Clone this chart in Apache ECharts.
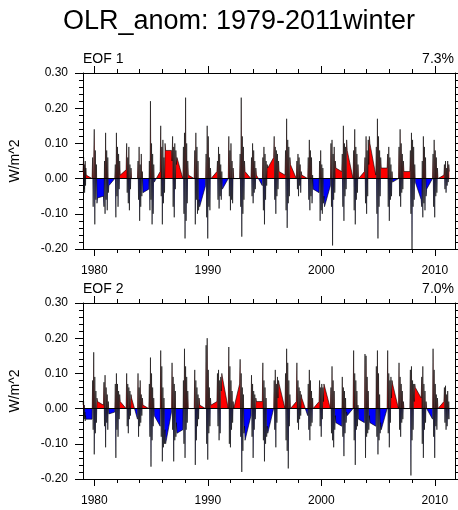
<!DOCTYPE html>
<html><head><meta charset="utf-8">
<script src="https://cdn.jsdelivr.net/npm/echarts@6/dist/echarts.min.js"></script>
<style>html,body{margin:0;padding:0;background:#fff}#c{width:458px;height:510px}</style>
</head><body><div id="c"></div>
<script>
const chartTitle = 'OLR_anom: 1979-2011winter';
const panelNames = ['EOF 1', 'EOF 2'];
const panelPercents = ['7.3%', '7.0%'];
const yAxisTitle = 'W/m^2';
const decadeTicks = [1980, 1990, 2000, 2010];
const minorYearTicks = [1980,1982,1984,1986,1988,1990,1992,1994,1996,1998,2000,2002,2004,2006,2008,2010];
const winterYears = [1979,1980,1981,1982,1983,1984,1985,1986,1987,1988,1989,1990,1991,1992,1993,1994,1995,1996,1997,1998,1999,2000,2001,2002,2003,2004,2005,2006,2007,2008,2009,2010,2011];

// EOF 1 time series, one list of daily-sampled values per winter (W/m^2)
const eof1Winters = [
 [0.02,0.015,0.06,-0.03,0.04,-0.04,0.02,0.05,-0.02,0.03,0.01],
 [0.0,0.06,-0.08,0.05,0.14,-0.13,0.08,-0.06,0.04,-0.07,-0.055],
 [-0.05,-0.08,0.05,-0.10,0.13,-0.06,0.08,-0.09,0.06,-0.04,-0.02],
 [0.0,0.04,-0.11,0.13,-0.05,0.09,-0.08,0.07,-0.03,0.05,0.01],
 [0.025,0.10,-0.04,0.06,-0.07,0.09,-0.09,0.04,-0.03,0.03,0.0],
 [0.0,0.05,-0.06,0.09,-0.12,0.04,-0.08,0.07,-0.05,0.02,-0.04],
 [-0.03,0.05,-0.09,0.22,-0.06,0.10,-0.13,0.07,-0.10,0.04,-0.01],
 [0.02,0.15,-0.05,0.09,-0.13,0.11,-0.07,0.06,-0.04,0.10,0.08],
 [0.08,0.05,0.12,-0.08,0.09,-0.11,0.10,-0.03,0.08,0.04,0.06],
 [0.0,0.09,-0.10,0.13,-0.17,0.23,-0.12,0.10,-0.07,0.05,0.01],
 [0.0,0.08,-0.13,0.13,-0.06,0.09,-0.10,0.05,-0.09,-0.06,-0.08],
 [-0.02,0.07,-0.11,0.15,-0.17,0.12,-0.08,0.06,-0.09,0.03,0.0],
 [0.02,0.05,-0.06,0.09,-0.085,0.07,-0.05,0.04,-0.06,0.02,-0.03],
 [0.0,0.12,-0.05,0.08,-0.09,0.10,-0.06,0.05,-0.07,0.03,0.0],
 [0.0,0.07,-0.08,0.23,-0.165,0.12,-0.10,0.09,-0.06,0.05,0.02],
 [0.0,0.06,-0.05,0.10,-0.07,0.08,-0.04,0.05,-0.03,0.03,0.01],
 [-0.02,0.06,-0.09,0.09,-0.13,0.07,-0.06,0.05,-0.02,0.04,0.03],
 [0.06,0.12,-0.06,0.09,-0.10,0.08,-0.05,0.07,-0.03,0.05,0.02],
 [0.01,0.08,-0.09,0.17,-0.14,0.11,-0.07,0.09,-0.05,0.06,0.04],
 [0.0,0.05,-0.03,0.07,-0.05,0.06,-0.02,0.04,-0.04,0.02,0.01],
 [0.0,0.06,-0.06,0.11,-0.09,0.08,-0.05,0.06,-0.07,0.01,-0.03],
 [-0.04,0.05,-0.12,0.08,-0.09,0.04,-0.10,0.03,-0.07,-0.05,-0.08],
 [-0.02,0.10,-0.08,0.11,-0.19,0.07,-0.06,0.09,-0.04,0.05,0.03],
 [0.02,0.07,-0.08,0.15,-0.12,0.10,-0.05,0.09,-0.03,0.11,0.08],
 [0.0,0.08,-0.09,0.14,-0.13,0.09,-0.06,0.07,-0.04,0.04,0.0],
 [0.02,0.06,-0.07,0.12,-0.10,0.08,-0.05,0.11,0.04,0.12,0.10],
 [0.01,0.09,-0.10,0.17,-0.17,0.12,-0.08,0.08,-0.05,0.06,0.03],
 [0.03,0.07,-0.08,0.09,-0.12,0.06,-0.06,0.04,-0.05,0.02,-0.01],
 [0.0,0.09,-0.05,0.14,-0.08,0.10,-0.04,0.07,-0.03,0.05,0.02],
 [0.02,0.08,-0.10,0.13,-0.20,0.11,-0.08,0.09,-0.06,0.04,-0.01],
 [-0.06,-0.08,0.05,-0.11,0.12,-0.07,0.09,-0.09,0.06,-0.05,-0.03],
 [0.0,0.07,-0.08,0.11,-0.11,0.08,-0.05,0.06,-0.04,0.03,0.0],
 [0.01,0.04,-0.03,0.05,-0.04,0.03,-0.02,0.05,-0.01,0.04,0.02]
];

// EOF 2 time series
const eof2Winters = [
 [0.02,0.01,0.02,-0.02,0.01,-0.03,-0.01,-0.035,-0.02,-0.03,-0.03],
 [-0.03,0.08,-0.06,0.16,-0.13,0.09,-0.07,0.05,-0.04,0.03,0.02],
 [0.01,0.075,-0.05,0.095,-0.11,0.06,-0.04,0.04,-0.06,0.02,-0.015],
 [-0.01,0.07,-0.14,0.10,-0.06,0.07,-0.08,0.05,-0.03,0.04,0.02],
 [0.0,0.10,-0.05,0.07,-0.07,0.06,-0.03,0.05,-0.02,0.04,0.03],
 [-0.03,0.10,-0.08,0.06,-0.05,0.08,-0.04,0.04,-0.02,0.03,0.01],
 [0.0,0.07,-0.08,0.145,-0.165,0.10,-0.09,0.06,-0.05,0.03,-0.02],
 [-0.05,0.165,-0.08,0.12,-0.15,0.06,-0.11,0.03,-0.10,-0.06,-0.10],
 [-0.01,0.13,-0.06,0.09,-0.15,0.07,-0.09,0.05,-0.08,-0.04,-0.07],
 [-0.06,0.08,-0.10,0.17,-0.14,0.12,-0.06,0.09,-0.04,0.05,0.0],
 [0.0,0.11,-0.16,0.08,-0.09,0.06,-0.05,0.04,-0.03,0.03,0.01],
 [0.0,0.18,-0.10,0.20,-0.145,0.11,-0.07,0.06,-0.05,0.03,0.01],
 [0.02,0.10,-0.05,0.11,-0.09,0.08,-0.07,0.09,0.05,0.10,0.09],
 [0.0,0.175,-0.10,0.12,-0.11,0.08,-0.06,0.05,-0.04,0.02,0.0],
 [0.07,0.14,-0.08,0.10,-0.18,0.06,-0.12,0.04,-0.07,-0.05,-0.09],
 [-0.02,0.095,-0.08,0.07,-0.14,0.05,-0.06,0.04,-0.03,0.03,0.02],
 [0.02,0.13,-0.09,0.08,-0.15,0.06,-0.10,0.03,-0.08,-0.05,-0.07],
 [0.0,0.08,-0.06,0.11,-0.11,0.07,-0.04,0.09,0.03,0.08,0.07],
 [0.0,0.10,-0.09,0.17,-0.12,0.13,-0.17,0.08,-0.05,0.04,0.0],
 [0.02,0.13,-0.04,0.08,-0.06,0.06,-0.03,0.05,-0.02,0.04,0.03],
 [-0.02,0.07,-0.06,0.11,-0.09,0.08,-0.05,0.05,-0.04,0.03,0.0],
 [0.02,0.08,-0.05,0.06,-0.08,0.07,-0.03,0.06,0.02,0.07,0.065],
 [0.0,0.06,-0.07,0.12,-0.09,0.08,-0.11,0.05,-0.06,-0.02,-0.04],
 [-0.05,0.09,-0.08,0.06,-0.135,0.05,-0.07,0.03,-0.04,-0.01,-0.02],
 [0.0,0.165,-0.09,0.10,-0.16,0.08,-0.06,0.05,-0.05,0.01,-0.03],
 [-0.04,0.155,-0.14,0.15,-0.08,0.09,-0.07,0.05,-0.06,-0.02,-0.04],
 [-0.05,0.12,-0.08,0.165,-0.13,0.10,-0.09,0.04,-0.07,-0.04,-0.06],
 [0.0,0.165,-0.07,0.10,-0.11,0.08,-0.04,0.09,0.03,0.08,0.07],
 [0.0,0.13,-0.06,0.09,-0.08,0.07,-0.04,0.05,-0.03,0.02,0.0],
 [0.0,0.11,-0.19,0.12,-0.09,0.08,-0.06,0.07,0.02,0.07,0.06],
 [0.03,0.09,-0.10,0.12,-0.14,0.07,-0.06,0.05,-0.04,0.02,0.0],
 [-0.03,0.17,-0.08,0.11,-0.14,0.07,-0.05,0.04,-0.06,0.03,0.0],
 [0.02,0.06,-0.04,0.065,-0.06,0.04,-0.05,0.05,-0.03,0.02,-0.03]
];

// winter season sampling times for each year's values
function toPoints(winters) {
  const pts = [];
  winters.forEach((vals, k) => {
    const yr = winterYears[k];
    const t0 = yr === 1979 ? 1979.0 : yr - 0.2;
    const t1 = yr + 0.28;
    vals.forEach((v, i) => pts.push([t0 + (t1 - t0) * i / (vals.length - 1), v]));
  });
  return pts;
}
const panelSeries = [toPoints(eof1Winters), toPoints(eof2Winters)];

const FONT = '"Liberation Sans", Arial, Helvetica, sans-serif';
const chart = echarts.init(document.getElementById('c'), null, {renderer: 'canvas'});
const Y_MIN = -0.2, Y_MAX = 0.3, GRID_H = 176;
const gridTops = [73, 303];
const grids = [], xAxes = [], yAxes = [], series = [], graphics = [];
const blackLine = {color: '#000', width: 1};
const zeroFrac = Y_MAX / (Y_MAX - Y_MIN);

gridTops.forEach((top, i) => {
  grids.push({left: 83, top: top, width: 372, height: GRID_H, containLabel: false});
  const xBase = {type: 'value', gridIndex: i, min: 1979, max: 2011.78, splitLine: {show: false}};
  xAxes.push(Object.assign({}, xBase, {position: 'bottom',
    axisLine: {show: true, onZero: false, lineStyle: blackLine},
    axisTick: {show: true, inside: false, length: 7, customValues: decadeTicks, lineStyle: blackLine},
    axisLabel: {show: true, customValues: decadeTicks, margin: 16, fontSize: 12, color: '#000', fontFamily: FONT,
      formatter: v => String(Math.round(v))}}));
  xAxes.push(Object.assign({}, xBase, {position: 'bottom',
    axisLine: {show: false, onZero: false},
    axisTick: {show: true, inside: false, length: 4, customValues: minorYearTicks, lineStyle: blackLine},
    axisLabel: {show: false, customValues: minorYearTicks}}));
  xAxes.push(Object.assign({}, xBase, {position: 'top',
    axisLine: {show: true, onZero: false, lineStyle: blackLine},
    axisTick: {show: true, inside: false, length: 7, customValues: decadeTicks, lineStyle: blackLine},
    axisLabel: {show: false, customValues: decadeTicks}}));
  xAxes.push(Object.assign({}, xBase, {position: 'top',
    axisLine: {show: false, onZero: false},
    axisTick: {show: true, inside: false, length: 4, customValues: minorYearTicks, lineStyle: blackLine},
    axisLabel: {show: false, customValues: minorYearTicks}}));
  const yBase = {type: 'value', gridIndex: i, min: Y_MIN, max: Y_MAX, interval: 0.1, splitLine: {show: false},
    axisLine: {show: true, onZero: false, lineStyle: blackLine},
    axisTick: {show: true, inside: false, length: 8, lineStyle: blackLine},
    minorTick: {show: true, splitNumber: 5, length: 4, lineStyle: blackLine}};
  yAxes.push(Object.assign({}, yBase, {position: 'left',
    axisLabel: {show: true, margin: 15, fontSize: 12, color: '#000', fontFamily: FONT,
      formatter: v => (Math.abs(v) < 1e-9 ? 0 : v).toFixed(2)}}));
  yAxes.push(Object.assign({}, yBase, {position: 'right', axisLabel: {show: false}}));

  const fill = new echarts.graphic.LinearGradient(0, top, 0, top + GRID_H, [
    {offset: 0, color: '#ff0000'}, {offset: zeroFrac, color: '#ff0000'},
    {offset: zeroFrac, color: '#0000ff'}, {offset: 1, color: '#0000ff'}], true);
  series.push({type: 'line', xAxisIndex: 4 * i, yAxisIndex: 2 * i, data: panelSeries[i],
    showSymbol: false, symbol: 'none', silent: true, lineStyle: {width: 0, opacity: 0},
    areaStyle: {opacity: 1, color: fill}, z: 2});
  series.push({type: 'line', xAxisIndex: 4 * i, yAxisIndex: 2 * i, data: panelSeries[i],
    showSymbol: false, symbol: 'none', silent: true, z: 3,
    lineStyle: {color: '#000', width: 0.6},
    markLine: {silent: true, symbol: 'none', label: {show: false}, animation: false,
      lineStyle: {color: '#000', width: 1, type: 'solid'}, data: [{yAxis: 0}]}});

  const capMid = top - 13.5;
  graphics.push({type: 'text', x: 83, y: capMid, style: {text: panelNames[i], font: '14px ' + FONT, fill: '#000',
    align: 'left', textAlign: 'left', verticalAlign: 'middle', textVerticalAlign: 'middle'}});
  graphics.push({type: 'text', x: 454, y: capMid, style: {text: panelPercents[i], font: '14px ' + FONT, fill: '#000',
    align: 'right', textAlign: 'right', verticalAlign: 'middle', textVerticalAlign: 'middle'}});
  graphics.push({type: 'text', x: 15, y: top + 88, rotation: Math.PI / 2, style: {text: yAxisTitle, font: '14px ' + FONT, fill: '#000',
    align: 'center', textAlign: 'center', verticalAlign: 'middle', textVerticalAlign: 'middle'}});
});
graphics.push({type: 'text', x: 239, y: 22, style: {text: chartTitle, font: '27px ' + FONT, fill: '#000',
  align: 'center', textAlign: 'center', verticalAlign: 'middle', textVerticalAlign: 'middle'}});

chart.setOption({
  animation: false,
  backgroundColor: '#fff',
  grid: grids, xAxis: xAxes, yAxis: yAxes, series: series, graphic: graphics
});
</script></body></html>
